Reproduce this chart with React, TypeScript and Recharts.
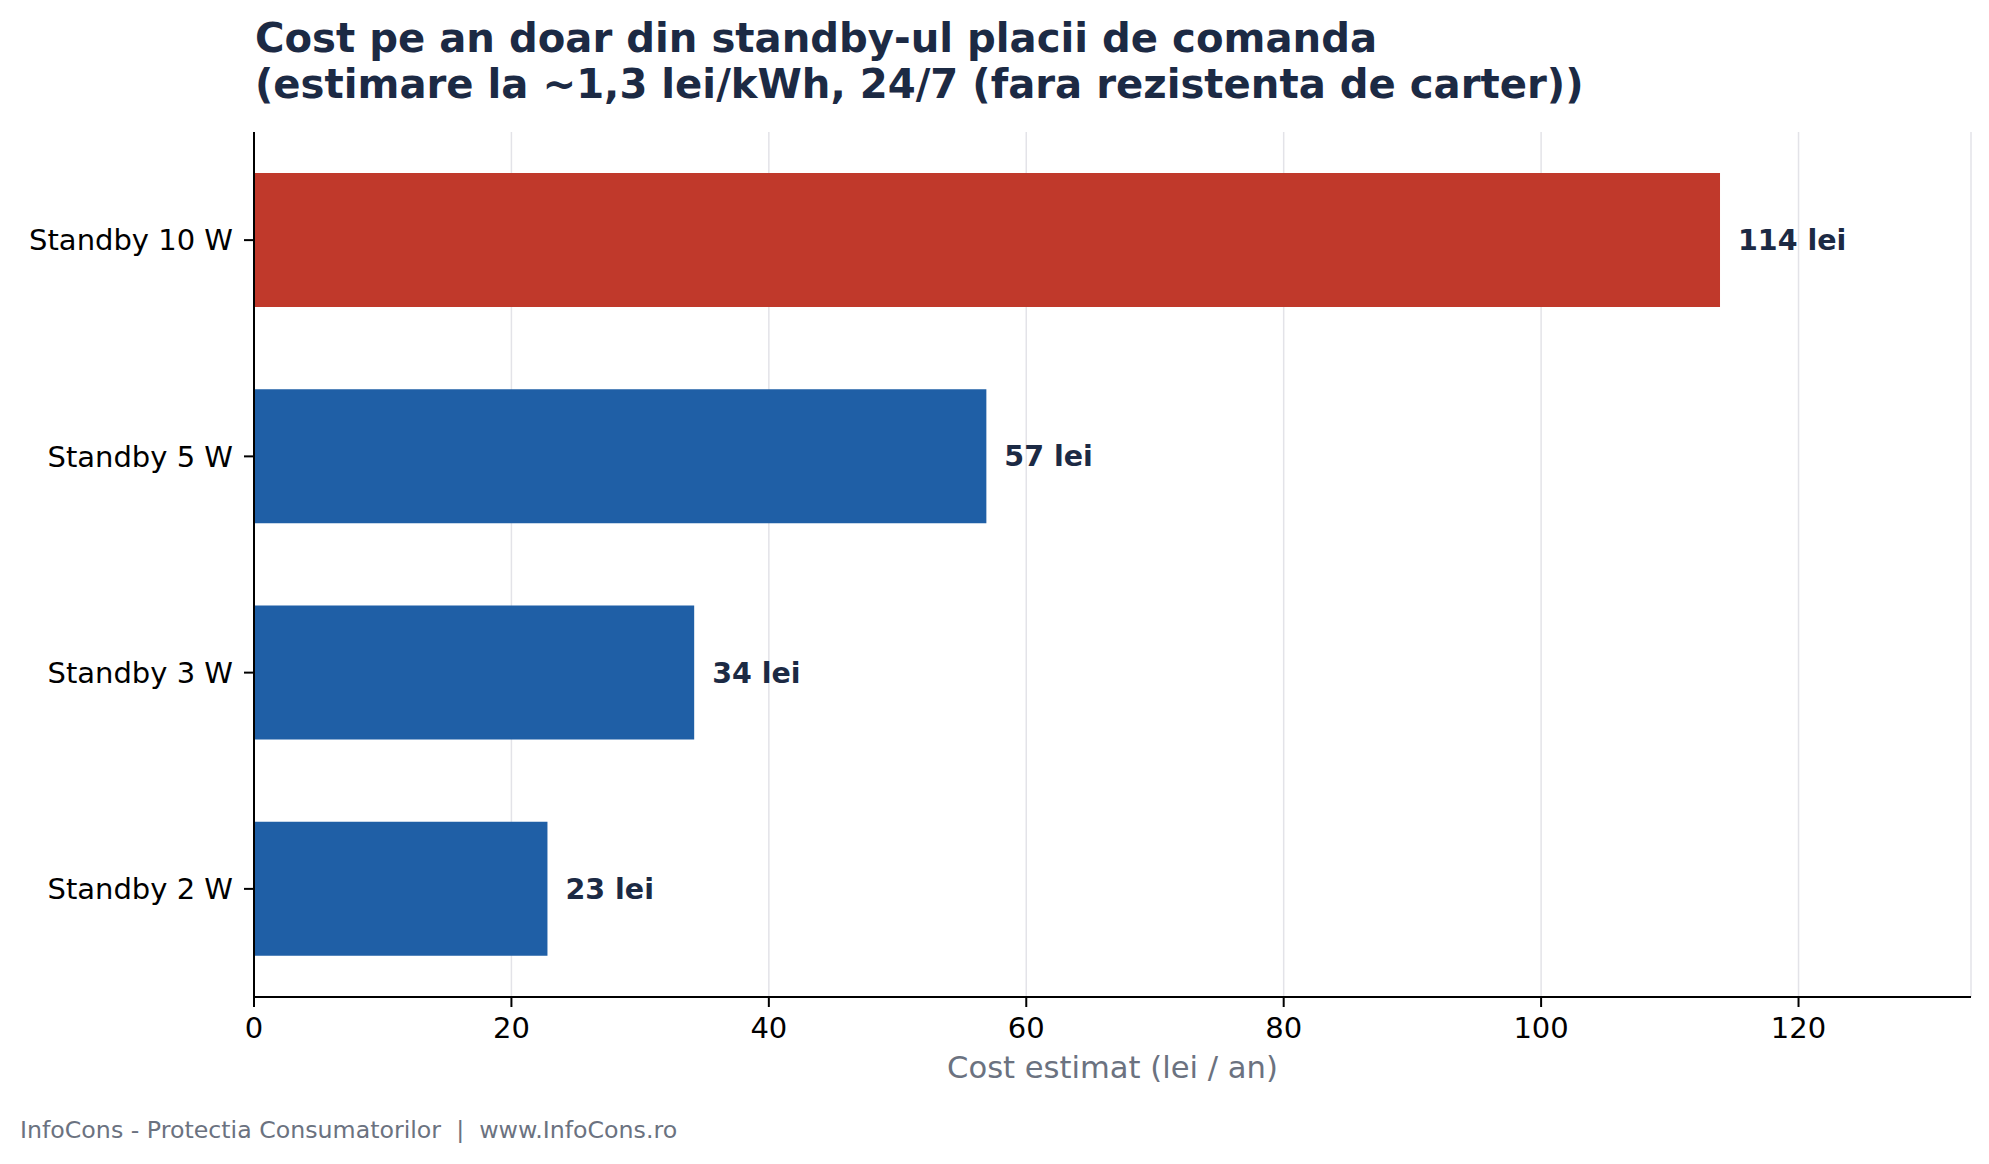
import { BarChart, Bar, XAxis, YAxis, CartesianGrid, Cell, LabelList } from 'recharts'

const categories = ['Standby 10 W', 'Standby 5 W', 'Standby 3 W', 'Standby 2 W']
const costs = [113.9, 56.9, 34.2, 22.8]
const barColors = ['#c0392b', '#1f5fa6', '#1f5fa6', '#1f5fa6']
const xTicks = [0, 20, 40, 60, 80, 100, 120]
const xMax = 133.4

const FONT = '"DejaVu Sans", sans-serif'
const NAVY = '#1c2a44'
const GREY = '#6b7280'

const chartData = categories.map((name, i) => ({ name, cost: costs[i] }))

export default function App() {
  return (
    <div style={{ position: 'absolute', left: 0, top: 0, width: 1989, height: 1164, background: '#fff' }}>
      <BarChart
        width={1989}
        height={1164}
        data={chartData}
        layout="vertical"
        margin={{ top: 132, right: 18, bottom: 107, left: 14 }}
      >
        <CartesianGrid horizontal={false} stroke="#e3e3e8" strokeWidth={1.5} />
        <XAxis
          type="number"
          domain={[0, xMax]}
          ticks={xTicks}
          height={60}
          axisLine={{ stroke: '#000', strokeWidth: 2 }}
          tickLine={{ stroke: '#000', strokeWidth: 2 }}
          tickSize={10}
          tickMargin={10}
          tick={{ fontSize: 29, fill: '#000', fontFamily: FONT }}
        />
        <YAxis
          type="category"
          dataKey="name"
          width={240}
          axisLine={{ stroke: '#000', strokeWidth: 2 }}
          tickLine={{ stroke: '#000', strokeWidth: 2 }}
          tickSize={10}
          tickMargin={11}
          tick={{ fontSize: 29, fill: '#000', fontFamily: FONT }}
        />
        <Bar dataKey="cost" barSize={134} isAnimationActive={false}>
          {chartData.map((d, i) => (
            <Cell key={d.name} fill={barColors[i]} />
          ))}
          <LabelList
            dataKey="cost"
            position="right"
            offset={18}
            formatter={(v: any) => `${Math.round(Number(v))} lei`}
            style={{ fontSize: 28.5, fontWeight: 'bold', fill: NAVY, fontFamily: FONT }}
          />
        </Bar>
      </BarChart>

      <svg
        width={1989}
        height={1164}
        style={{ position: 'absolute', left: 0, top: 0, pointerEvents: 'none' }}
      >
        <text x={255} y={52} fontFamily={FONT} fontSize={40.2} fontWeight="bold" fill={NAVY}>
          Cost pe an doar din standby-ul placii de comanda
        </text>
        <text x={255} y={97.5} fontFamily={FONT} fontSize={40.2} fontWeight="bold" fill={NAVY}>
          (estimare la ~1,3 lei/kWh, 24/7 (fara rezistenta de carter))
        </text>
        <text x={1112.5} y={1078} textAnchor="middle" fontFamily={FONT} fontSize={30.6} fill={GREY}>
          Cost estimat (lei / an)
        </text>
        <text x={20} y={1138} fontFamily={FONT} fontSize={23.7} fill={GREY} style={{ whiteSpace: 'pre' }}>
          {'InfoCons - Protectia Consumatorilor  |  www.InfoCons.ro'}
        </text>
      </svg>
    </div>
  )
}
